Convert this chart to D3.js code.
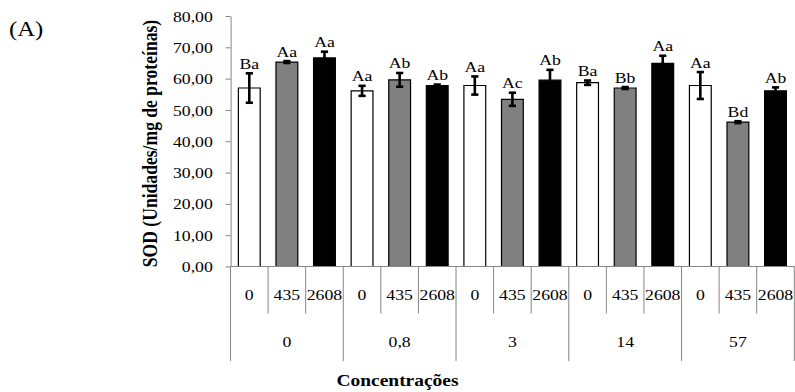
<!DOCTYPE html>
<html lang="pt">
<head>
<meta charset="UTF-8">
<title>SOD</title>
<style>
    body { margin: 0; padding: 0; background: #fff; overflow: hidden; }
    svg { display: block; }
    text { font-family: "Liberation Serif", "Times New Roman", serif; fill: #000; }
</style>
<script src="https://cdn.jsdelivr.net/npm/d3@7"></script>
</head>
<body>
<svg id="chart" width="795" height="392"></svg>
<script>
// dados
var grupos = ["0", "0,8", "3", "14", "57"];
var doses = ["0", "435", "2608"];
var medias = [57.0, 65.3, 66.6, 56.1, 59.6, 57.8, 57.8, 53.4, 59.5, 58.7, 57.0, 64.9, 57.8, 46.1, 56.1];
var erros = [4.7, 0.3, 2.0, 1.6, 2.2, 0.3, 2.9, 2.1, 3.3, 0.7, 0.3, 2.4, 4.3, 0.3, 1.1];
var letras = ["Ba", "Aa", "Aa", "Aa", "Ab", "Ab", "Aa", "Ac", "Ab", "Ba", "Bb", "Aa", "Aa", "Bd", "Ab"];
var yTicks = [0, 10, 20, 30, 40, 50, 60, 70, 80];
var cores = ["#ffffff", "#808080", "#000000"];

// the original picture is stretched sideways, so everything is drawn in a scaled group
var SX = 1.18;
var xLeft = 230.5 / SX, xRight = 794.3 / SX;
var yTop = 16, yBase = 266.5;
var axisColor = "#868686";

var svg = d3.select("#chart");
var g = svg.append("g").attr("transform", "scale(" + SX + ",1)");

var barras = [];
grupos.forEach(function (gr, i) {
    doses.forEach(function (d, j) {
        var k = i * doses.length + j;
        barras.push({ id: k, grupo: gr, dose: d, v: medias[k], e: erros[k], l: letras[k], c: cores[j] });
    });
});

var y = d3.scaleLinear().domain([0, 80]).range([yBase, yTop]);
var x = d3.scaleBand().domain(barras.map(d => d.id)).range([xLeft, xRight]).paddingInner(0.42).paddingOuter(0.21);
var slot = (xRight - xLeft) / barras.length;

// eixo y
var yAxis = d3.axisLeft(y).tickValues(yTicks).tickSizeInner(5 / SX).tickSizeOuter(0).tickPadding(10.8)
    .tickFormat(d => d3.format(".2f")(d).replace(".", ","));
var ya = g.append("g").attr("transform", "translate(" + xLeft + ",0)").call(yAxis);
ya.select(".domain").attr("stroke", axisColor).attr("vector-effect", "non-scaling-stroke");
ya.selectAll(".tick line").attr("stroke", axisColor).attr("vector-effect", "non-scaling-stroke");
ya.selectAll(".tick text").attr("font-size", 15).attr("font-family", null).attr("dy", "0.34em");

// barras
g.selectAll("rect.bar").data(barras).enter().append("rect")
    .attr("class", "bar")
    .attr("x", d => x(d.id))
    .attr("width", x.bandwidth())
    .attr("y", d => y(d.v))
    .attr("height", d => yBase - y(d.v))
    .attr("fill", d => d.c)
    .attr("stroke", "#000")
    .attr("stroke-width", 1.2)
    .attr("vector-effect", "non-scaling-stroke");

// barras de erro
var cap = 3.6 / SX;
var eb = g.selectAll("g.err").data(barras).enter().append("g").attr("class", "err")
    .attr("stroke", "#000").attr("stroke-width", 2.6);
eb.append("line")
    .attr("x1", d => x(d.id) + x.bandwidth() / 2).attr("x2", d => x(d.id) + x.bandwidth() / 2)
    .attr("y1", d => y(d.v + d.e)).attr("y2", d => y(d.v - d.e))
    .attr("vector-effect", "non-scaling-stroke");
eb.append("line")
    .attr("x1", d => x(d.id) + x.bandwidth() / 2 - cap).attr("x2", d => x(d.id) + x.bandwidth() / 2 + cap)
    .attr("y1", d => y(d.v + d.e)).attr("y2", d => y(d.v + d.e));
eb.append("line")
    .attr("x1", d => x(d.id) + x.bandwidth() / 2 - cap).attr("x2", d => x(d.id) + x.bandwidth() / 2 + cap)
    .attr("y1", d => y(d.v - d.e)).attr("y2", d => y(d.v - d.e));

// letras
g.selectAll("text.lab").data(barras).enter().append("text")
    .attr("class", "lab")
    .attr("x", d => x(d.id) + x.bandwidth() / 2)
    .attr("y", d => y(d.v + d.e) - 4.5)
    .attr("text-anchor", "middle")
    .attr("font-size", 15)
    .text(d => d.l);

// eixo x em dois niveis
g.append("line").attr("x1", xLeft).attr("x2", xRight).attr("y1", yBase).attr("y2", yBase)
    .attr("stroke", axisColor).attr("vector-effect", "non-scaling-stroke");

var sub = g.append("g");
barras.forEach(function (d, k) {
    var xs = xLeft + k * slot;
    var fim = (k % doses.length === 0) ? 361 : 313.5;
    sub.append("line").attr("x1", xs).attr("x2", xs).attr("y1", yBase).attr("y2", fim)
        .attr("stroke", axisColor).attr("vector-effect", "non-scaling-stroke");
    sub.append("text").attr("x", xs + slot / 2).attr("y", 300)
        .attr("text-anchor", "middle").attr("font-size", 15).text(d.dose);
});
sub.append("line").attr("x1", xRight).attr("x2", xRight).attr("y1", yBase).attr("y2", 361)
    .attr("stroke", axisColor).attr("vector-effect", "non-scaling-stroke");

grupos.forEach(function (gr, i) {
    var xs = xLeft + (i * doses.length + doses.length / 2) * slot;
    g.append("text").attr("x", xs).attr("y", 347.5)
        .attr("text-anchor", "middle").attr("font-size", 15).text(gr);
});

// titulos
g.append("text")
    .attr("x", 397.5 / SX).attr("y", 386)
    .attr("text-anchor", "middle").attr("font-size", 16.5).attr("font-weight", "bold")
    .text("Concentrações");

g.append("text")
    .attr("transform", "translate(" + (157 / SX) + "," + 143.5 + ") rotate(-90)")
    .attr("text-anchor", "middle").attr("font-size", 17.6).attr("font-weight", "bold")
    .text("SOD (Unidades/mg de proteínas)");

g.append("text")
    .attr("x", 9 / SX).attr("y", 36)
    .attr("font-size", 21)
    .text("(A)");
</script>
</body>
</html>
